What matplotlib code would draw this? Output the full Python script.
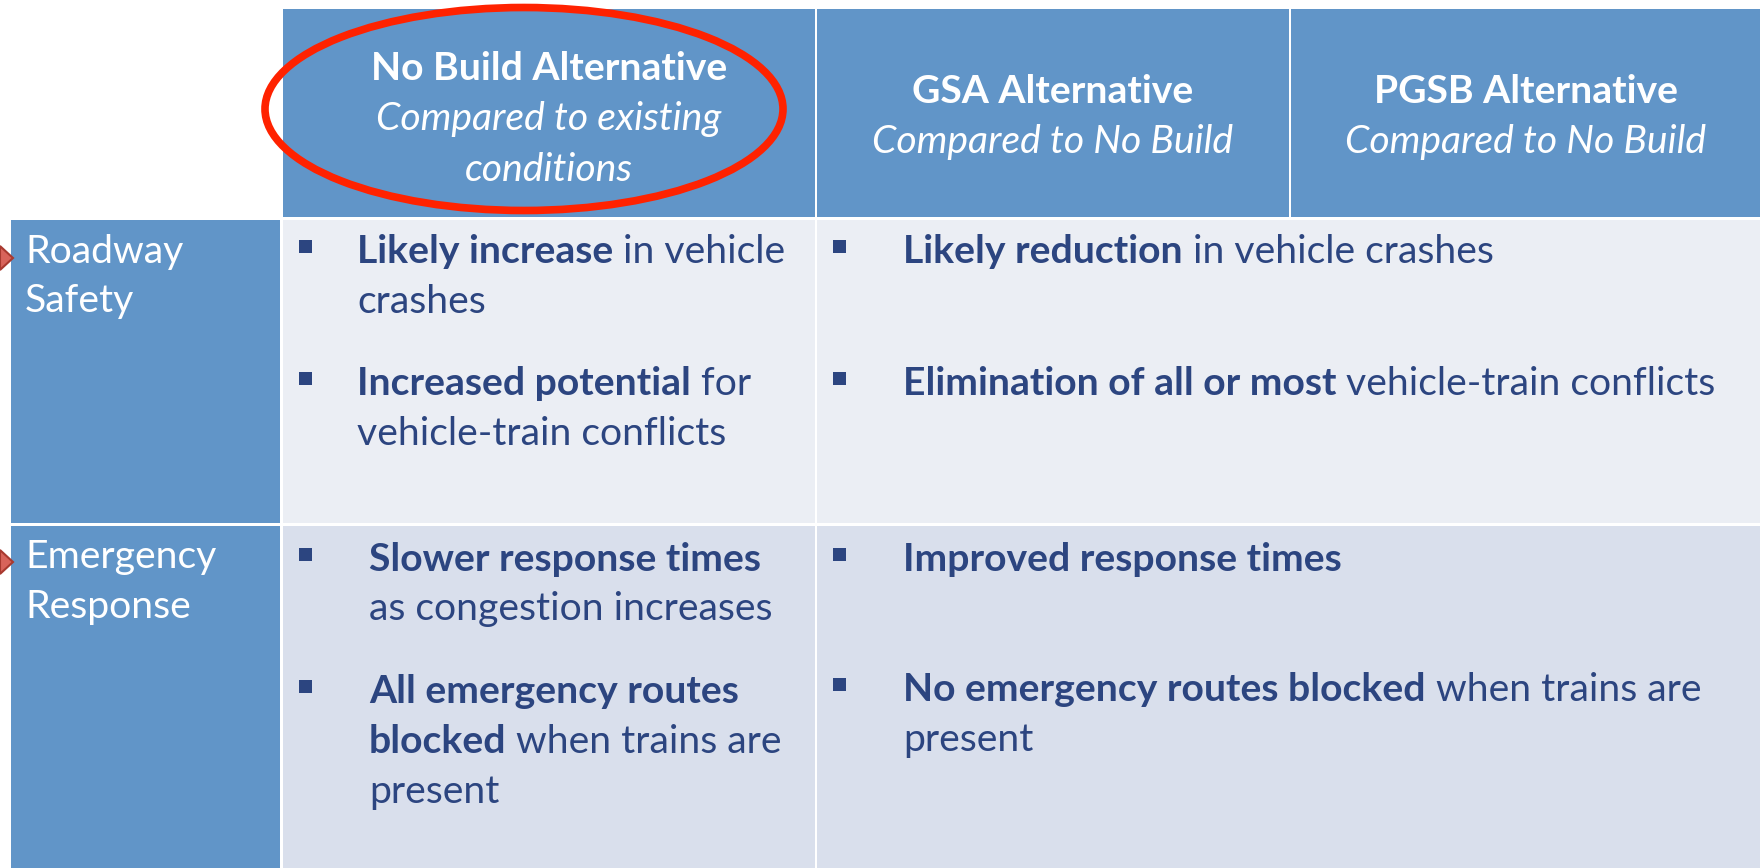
import matplotlib
matplotlib.use("Agg")
import matplotlib.pyplot as plt
from matplotlib.font_manager import FontProperties
from matplotlib.patches import Rectangle, Ellipse, Polygon

FONT = "Lato"
FS = 28.2

HEADER_BLUE = "#6195C8"
ROW1_BG = "#EBEEF4"
ROW2_BG = "#D9DFEC"
TEXT_BLUE = "#2C4580"
RING_RED = "#FF2200"

# table content
row_labels = [["Roadway", "Safety"], ["Emergency", "Response"]]
col_titles = ["No Build Alternative", "GSA Alternative", "PGSB Alternative"]
col_subtitles = [
    ["Compared to existing", "conditions"],
    ["Compared to No Build"],
    ["Compared to No Build"],
]

# bullets: each bullet is a list of lines, each line a list of (text, bold) runs
safety_no_build = [
    [[("Likely increase", True), (" in vehicle", False)], [("crashes", False)]],
    [[("Increased potential", True), (" for", False)], [("vehicle-train conflicts", False)]],
]
safety_build = [
    [[("Likely reduction", True), (" in vehicle crashes", False)]],
    [[("Elimination of all or most", True), (" vehicle-train conflicts", False)]],
]
emergency_no_build = [
    [[("Slower response times", True)], [("as congestion increases", False)]],
    [[("All emergency routes", True)], [("blocked", True), (" when trains are", False)], [("present", False)]],
]
emergency_build = [
    [[("Improved response times", True)]],
    [[("No emergency routes blocked", True), (" when trains are", False)], [("present", False)]],
]

W, H = 1760, 868
fig = plt.figure(figsize=(W / 100, H / 100), dpi=100)
ax = fig.add_axes([0, 0, 1, 1])
ax.set_xlim(0, W)
ax.set_ylim(H, 0)
ax.axis("off")
renderer = fig.canvas.get_renderer()


def text_width(s, bold):
    prop = FontProperties(family=FONT, size=FS, weight="bold" if bold else "normal")
    w1, _, _ = renderer.get_text_width_height_descent("|" + s + "|", prop, ismath=False)
    w0, _, _ = renderer.get_text_width_height_descent("||", prop, ismath=False)
    return w1 - w0


def draw_runs(x, y, runs):
    for s, bold in runs:
        ax.text(x, y, s, fontsize=FS, family=FONT, color=TEXT_BLUE,
                fontweight="bold" if bold else "normal", ha="left", va="baseline")
        x += text_width(s, bold)


def draw_bullets(bullets, bx, tx, baselines):
    i = 0
    for bullet in bullets:
        ax.add_patch(Rectangle((bx, baselines[i] - 23), 13, 13, color=TEXT_BLUE, lw=0))
        for line in bullet:
            draw_runs(tx, baselines[i], line)
            i += 1


# cells
header_top, header_bot = 9, 217
cols = [(283, 815), (817, 1289), (1291, 1760)]
rows = [(220, 523), (526, 868)]

for (x0, x1) in cols:
    ax.add_patch(Rectangle((x0, header_top), x1 - x0, header_bot - header_top, color=HEADER_BLUE, lw=0))
for (y0, y1) in rows:
    ax.add_patch(Rectangle((11, y0), 280 - 11, y1 - y0, color=HEADER_BLUE, lw=0))
for (y0, y1), bg in zip(rows, [ROW1_BG, ROW2_BG]):
    ax.add_patch(Rectangle((283, y0), 815 - 283, y1 - y0, color=bg, lw=0))
    ax.add_patch(Rectangle((817, y0), 1760 - 817, y1 - y0, color=bg, lw=0))

# header text
title_base = [[80, 130, 181], [103, 153], [103, 153]]
for (x0, x1), title, subs, bases in zip(cols, col_titles, col_subtitles, title_base):
    cx = (x0 + x1) / 2
    ax.text(cx, bases[0], title, fontsize=FS, family=FONT, fontweight="bold",
            color="white", ha="center", va="baseline")
    for sub, b in zip(subs, bases[1:]):
        ax.text(cx, b, sub, fontsize=FS, family=FONT, style="italic",
                color="white", ha="center", va="baseline")

# row labels and the little markers on the left edge
label_base = [[263, 312], [568, 618]]
marker_y = [258, 562]
for lines, bases, my in zip(row_labels, label_base, marker_y):
    for s, b in zip(lines, bases):
        ax.text(25, b, s, fontsize=FS, family=FONT, color="white", ha="left", va="baseline")
    ax.add_patch(Polygon([(0, my - 12), (13, my), (0, my + 12)], closed=True,
                         facecolor="#D8635A", edgecolor="#A8392F", lw=1.5))

# body
draw_bullets(safety_no_build, 299, 357, [263, 313, 395, 445])
draw_bullets(safety_build, 833, 903, [263, 395])
draw_bullets(emergency_no_build, 299, 369, [571, 620, 703, 753, 803])
draw_bullets(emergency_build, 833, 903, [571, 701, 751])

# red ring around the No Build heading
ax.add_patch(Ellipse((524, 109), 518, 203, fill=False, edgecolor=RING_RED, lw=5.5))

fig.savefig("out.png", dpi=100)
